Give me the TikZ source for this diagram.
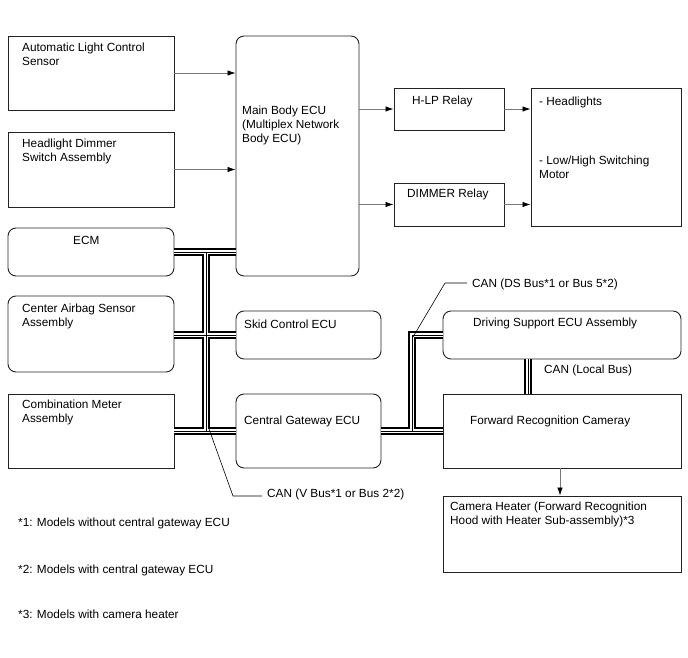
\documentclass[tikz,border=0pt]{standalone}
\usepackage{fontspec}
\setmainfont{Liberation Sans}
\usetikzlibrary{arrows.meta}
\definecolor{arrgray}{HTML}{777777}
\definecolor{boxline}{HTML}{222222}
\tikzset{
  sbox/.style={draw=boxline, line width=0.9pt, inner sep=0pt},
  rbox/.style={sbox, rounded corners=8pt},
  lbl/.style={anchor=north west, inner sep=0pt, align=left, yshift=9.8pt,
              font=\fontsize{11.8}{14}\selectfont},
  arr/.style={draw=arrgray, line width=0.8pt, -{Latex[length=8pt,width=5.5pt,color=black]}},
  bus/.style={draw=white, line width=4.6pt,
              preaction={draw=black, line width=7.6pt},
              postaction={draw=black, line width=0.7pt}},
  leader/.style={draw=black, line width=0.6pt}
}
\begin{document}
\begin{tikzpicture}[x=1pt, y=-1pt]
\useasboundingbox[fill=white] (0,0) rectangle (688,658);

% boxes
\node[sbox, minimum width=166pt, minimum height=74pt] (alcs) at (91,73) {};
\node[sbox, minimum width=166pt, minimum height=75pt] (hdsa) at (91,169.5) {};
\node[rbox, minimum width=166pt, minimum height=48pt] (ecm) at (91,252) {};
\node[rbox, minimum width=166pt, minimum height=76pt] (cas) at (91,334) {};
\node[sbox, minimum width=166pt, minimum height=74pt] (cma) at (91,431) {};
\node[rbox, minimum width=123pt, minimum height=240pt] (mbe) at (297.5,156) {};
\node[rbox, minimum width=145pt, minimum height=48pt] (skid) at (308.5,335) {};
\node[rbox, minimum width=145pt, minimum height=74pt] (cgw) at (308.5,431) {};
\node[sbox, minimum width=110pt, minimum height=42pt] (hlp) at (449,109) {};
\node[sbox, minimum width=110pt, minimum height=43pt] (dim) at (449,204.5) {};
\node[sbox, minimum width=150pt, minimum height=138pt] (head) at (606,157) {};
\node[rbox, minimum width=238pt, minimum height=48pt] (dse) at (562,335) {};
\node[sbox, minimum width=238pt, minimum height=74pt] (frc) at (562,431) {};
\node[sbox, minimum width=238pt, minimum height=76pt] (cam) at (562,534) {};

% texts
\node[lbl] (alcst) at (22,51) {\strut Automatic Light Control\\Sensor};
\node[lbl] (hdsat) at (22,147) {\strut Headlight Dimmer\\Switch Assembly};
\node[lbl] (ecmt) at (73,244) {\strut ECM};
\node[lbl] (cast) at (22,312) {\strut Center Airbag Sensor\\Assembly};
\node[lbl] (cmat) at (22,408) {\strut Combination Meter\\Assembly};
\node[lbl] (mbet) at (242,114) {\strut Main Body ECU\\(Multiplex Network\\Body ECU)};
\node[lbl] (skidt) at (244,328) {\strut Skid Control ECU};
\node[lbl] (cgwt) at (244,424) {\strut Central Gateway ECU};
\node[lbl] (hlpt) at (412,104) {\strut H-LP Relay};
\node[lbl] (dimt) at (407,197) {\strut DIMMER Relay};
\node[lbl] (headt) at (539,105) {\strut - Headlights};
\node[lbl] (headt2) at (539,164) {\strut - Low/High Switching\\Motor};
\node[lbl] (dset) at (473,326) {\strut Driving Support ECU Assembly};
\node[lbl] (localt) at (544,373) {\strut CAN (Local Bus)};
\node[lbl] (frct) at (470,424) {\strut Forward Recognition Cameray};
\node[lbl] (camt) at (450,510) {\strut Camera Heater (Forward Recognition\\Hood with Heater Sub-assembly)*3};
\node[lbl] (dst) at (472,287) {\strut CAN (DS Bus*1 or Bus 5*2)};
\node[lbl] (vbt) at (267,497) {\strut CAN (V Bus*1 or Bus 2*2)};
\node[lbl] (fn1) at (18,526) {\strut *1: Models without central gateway ECU};
\node[lbl] (fn2) at (18,573) {\strut *2: Models with central gateway ECU};
\node[lbl] (fn3) at (18,618) {\strut *3: Models with camera heater};

% arrows
\draw[arr] (alcs.east) -- (mbe.west |- alcs.east);
\draw[arr] (hdsa.east) -- (mbe.west |- hdsa.east);
\draw[arr] (mbe.east |- hlp.west) -- (hlp.west);
\draw[arr] (mbe.east |- dim.west) -- (dim.west);
\draw[arr] (hlp.east) -- (head.west |- hlp.east);
\draw[arr] (dim.east) -- (head.west |- dim.east);
\draw[arr] (frc.south -| 560,0) -- (cam.north -| 560,0);

% buses
\coordinate (j1) at (206,252);
\coordinate (j2) at (206,431);
\coordinate (j3) at (412,431);
\coordinate (j4) at (412,335);
\path[bus] (ecm.east) -- (mbe.west |- ecm.east)
  (j1) -- (j2)
  (cas.east |- skid.west) -- (skid.west)
  (cma.east) -- (cgw.west)
  (cgw.east) -- (frc.west)
  (j3) -- (j4) -- (dse.west)
  (dse.south -| 528,0) -- (frc.north -| 528,0);

% leaders
\coordinate (vb0) at (209,429);
\coordinate (vb1) at (233,496);
\coordinate (vb2) at (262,496);
\draw[leader] (vb0) -- (vb1) -- (vb2);
\coordinate (ds0) at (413,337);
\coordinate (ds1) at (445,283);
\coordinate (ds2) at (467,283);
\draw[leader] (ds0) -- (ds1) -- (ds2);
\end{tikzpicture}
\end{document}
